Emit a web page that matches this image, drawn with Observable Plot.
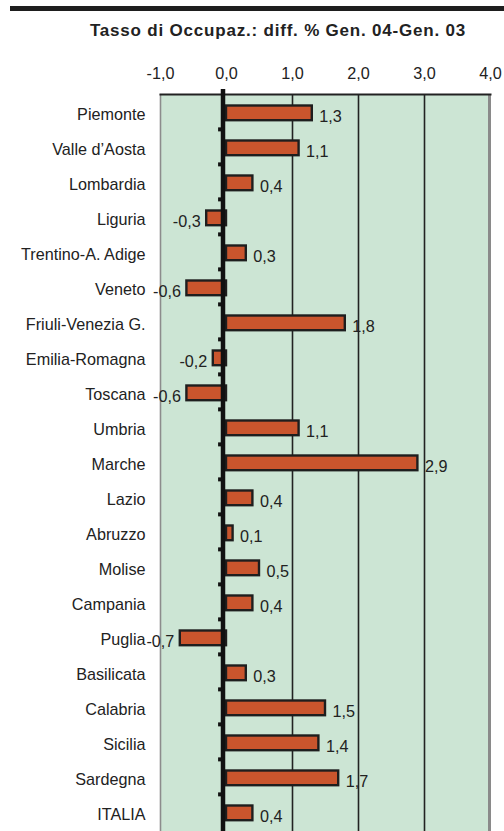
<!DOCTYPE html>
<html>
<head>
<meta charset="utf-8">
<script src="https://cdn.jsdelivr.net/npm/d3@7"></script>
<script src="https://cdn.jsdelivr.net/npm/@observablehq/plot@0.6"></script>
<style>
  html, body { margin: 0; padding: 0; background: #fff; }
  #wrap { position: relative; width: 504px; height: 831px; overflow: hidden; font-family: Arial, "Liberation Sans", sans-serif; }
  #topline { position: absolute; left: 10px; top: 6px; width: 494px; height: 5px; background: #1e1e1e; }
  #title { position: absolute; left: 52px; width: 452px; top: 21px; line-height: 20px; text-align: center; font-weight: bold; font-size: 17px; letter-spacing: 0.8px; color: #222; }
  #chart { position: absolute; left: 0; top: 0; }
</style>
</head>
<body>
<div id="wrap">
  <div id="chart"></div>
  <div id="topline"></div>
  <div id="title">Tasso di Occupaz.: diff. % Gen. 04-Gen. 03</div>
</div>
<script>
const categories = ["Piemonte", "Valle d’Aosta", "Lombardia", "Liguria", "Trentino-A. Adige", "Veneto", "Friuli-Venezia G.", "Emilia-Romagna", "Toscana", "Umbria", "Marche", "Lazio", "Abruzzo", "Molise", "Campania", "Puglia", "Basilicata", "Calabria", "Sicilia", "Sardegna", "ITALIA"];
const values = [1.3, 1.1, 0.4, -0.3, 0.3, -0.6, 1.8, -0.2, -0.6, 1.1, 2.9, 0.4, 0.1, 0.5, 0.4, -0.7, 0.3, 1.5, 1.4, 1.7, 0.4];
const tickValues = [-1, 0, 1, 2, 3, 4];
const gridValues = [1, 2, 3];

const data = categories.map((c, i) => ({region: c, value: values[i]}));
const fmt = v => v.toFixed(1).replace(".", ",");

const yTop = 91.75, yBottom = 832;
const step = (yBottom - yTop) / categories.length;

const chart = Plot.plot({
  width: 504,
  height: 831,
  marginTop: 94,
  marginLeft: 160,
  marginRight: 14,
  marginBottom: 0,
  style: {fontFamily: "Arial, 'Liberation Sans', sans-serif", fontSize: "16.2px", color: "#222", background: "transparent", overflow: "visible"},
  x: {domain: [-1, 4]},
  y: {domain: categories, range: [yTop, yBottom], padding: 0},
  marks: [
    Plot.frame({fill: "#cce5d4", stroke: null}),
    Plot.ruleX(gridValues, {stroke: "#222", strokeWidth: 1.6}),
    Plot.ruleX([-1], {stroke: "#8c8c8c", strokeWidth: 1.6}),
    Plot.ruleX([4], {stroke: "#8a8a8a", strokeWidth: 3, dx: -1}),
    Plot.frame({anchor: "top", stroke: "#222", strokeWidth: 2}),
    Plot.barX(data, {x: "value", y: "region", fill: "#c9552d", stroke: "#1e1e1e", strokeWidth: 2.4, insetTop: 11.5, insetBottom: 8.8}),
    Plot.ruleX([0], {stroke: "#111", strokeWidth: 4.5, dx: -3.5, insetTop: -5}),
    Plot.ruleY(categories.slice(1), {y: d => d, x1: -0.12, x2: -0.04, dy: -step / 2, stroke: "#111", strokeWidth: 4}),
    Plot.text(data.filter(d => d.value >= 0), {x: "value", y: "region", text: d => fmt(d.value), textAnchor: "start", dx: 7, dy: 4.5, fill: "#222"}),
    Plot.text(data.filter(d => d.value < 0), {x: "value", y: "region", text: d => fmt(d.value), textAnchor: "end", dx: -6, dy: 4.5, fill: "#222"}),
    Plot.axisX(tickValues, {anchor: "top", tickSize: 0, tickPadding: 16, tickFormat: fmt, label: null}),
    Plot.axisY({anchor: "left", tickSize: 0, tickPadding: 15, dy: 3, label: null})
  ]
});
document.getElementById("chart").appendChild(chart);
</script>
</body>
</html>
